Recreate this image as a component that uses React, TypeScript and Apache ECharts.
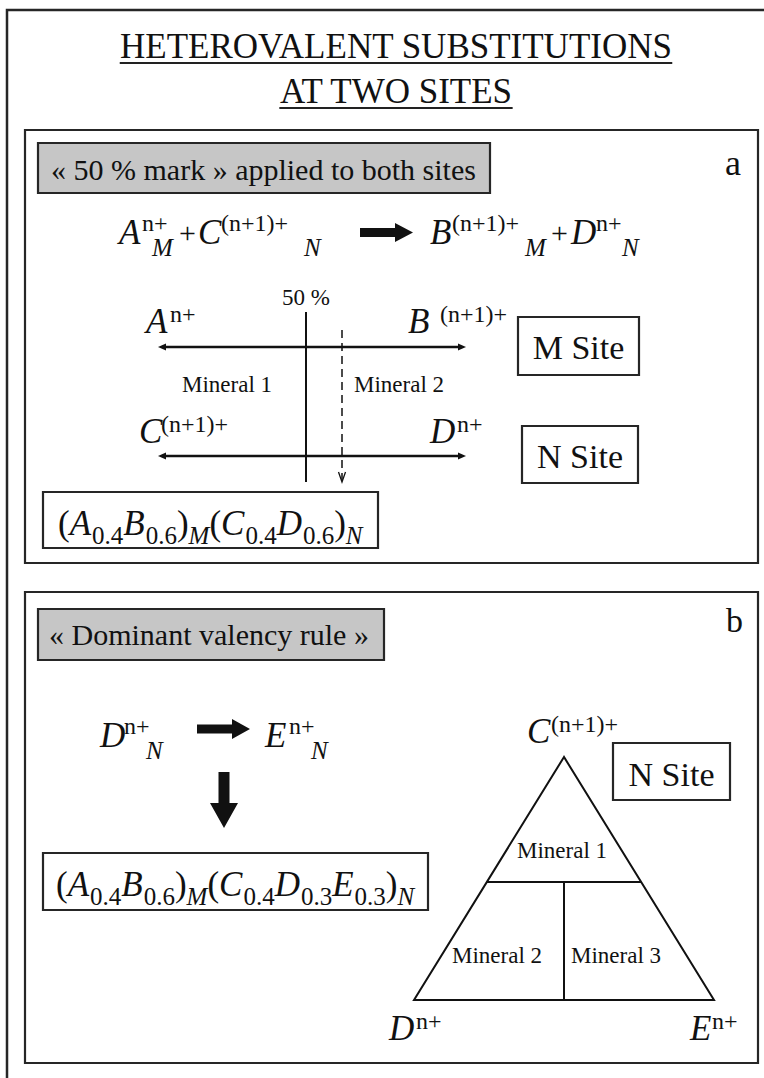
import React, { useEffect, useRef } from 'react';
import * as echarts from 'echarts';

const SERIF = "'Liberation Serif', 'Times New Roman', Times, serif";
const INK = '#111111';
const FRAME = '#262626';
const GRAY = '#c6c6c6';

const TITLE_LINES = ['HETEROVALENT SUBSTITUTIONS', 'AT TWO SITES'];
const PANEL_LETTERS = ['a', 'b'];
const RULE_TITLES = ['« 50 % mark » applied to both sites', '« Dominant valency rule »'];
const SITE_NAMES = ['M Site', 'N Site'];
const MINERALS = ['Mineral 1', 'Mineral 2', 'Mineral 3'];
const MARK_LABEL = '50 %';
const ION_N = 'n+';
const ION_N1 = '(n+1)+';

// roles: n = main upright, i = main italic, p = superscript, s = subscript upright, si = subscript italic
const REACTION_A: [string, string][] = [
  ['A', 'i'], [ION_N, 'p'], ['M', 'si'], ['+', 'n'], ['C', 'i'], [ION_N1, 'p'], ['N', 'si'],
  ['B', 'i'], [ION_N1, 'p'], ['M', 'si'], ['+', 'n'], ['D', 'i'], [ION_N, 'p'], ['N', 'si'],
];
const REACTION_B: [string, string][] = [
  ['D', 'i'], [ION_N, 'p'], ['N', 'si'], ['E', 'i'], [ION_N, 'p'], ['N', 'si'],
];
const FORMULA_A: [string, string][] = [
  ['(', 'n'], ['A', 'i'], ['0.4', 's'], ['B', 'i'], ['0.6', 's'], [')', 'n'], ['M', 'si'],
  ['(', 'n'], ['C', 'i'], ['0.4', 's'], ['D', 'i'], ['0.6', 's'], [')', 'n'], ['N', 'si'],
];
const FORMULA_B: [string, string][] = [
  ['(', 'n'], ['A', 'i'], ['0.4', 's'], ['B', 'i'], ['0.6', 's'], [')', 'n'], ['M', 'si'],
  ['(', 'n'], ['C', 'i'], ['0.4', 's'], ['D', 'i'], ['0.3', 's'], ['E', 'i'], ['0.3', 's'], [')', 'n'], ['N', 'si'],
];
const END_MEMBERS_A: [string, string][] = [
  ['A', ION_N], ['B', ION_N1], ['C', ION_N1], ['D', ION_N],
];
const END_MEMBERS_B: [string, string][] = [
  ['C', ION_N1], ['D', ION_N], ['E', ION_N],
];

const MAIN = 35;
const PLUS = 30;
const SUP = 24;
const SUB = 25;

let measureCtx: CanvasRenderingContext2D | null = null;
function measure(t: string, size: number, italic: boolean) {
  if (!measureCtx) measureCtx = document.createElement('canvas').getContext('2d');
  if (!measureCtx) return t.length * size * 0.5;
  measureCtx.font = `${italic ? 'italic ' : ''}${size}px ${SERIF}`;
  return measureCtx.measureText(t).width;
}

function buildElements() {
  const els: any[] = [];
  const text = (x: number, base: number, s: string, size: number, italic = false, align = 'left') => {
    els.push({
      type: 'text',
      x,
      y: base - 0.34 * size,
      style: {
        text: s,
        fontSize: size,
        fontFamily: SERIF,
        fontStyle: italic ? 'italic' : 'normal',
        fill: INK,
        align,
        verticalAlign: 'middle',
      },
    });
  };
  const line = (x1: number, y1: number, x2: number, y2: number, w = 2, dash?: number[], color = INK) => {
    els.push({
      type: 'line',
      shape: { x1, y1, x2, y2 },
      style: { stroke: color, lineWidth: w, lineDash: dash },
    });
  };
  const rect = (x: number, y: number, w: number, h: number, fill = '#ffffff', lw = 2.2) => {
    els.push({
      type: 'rect',
      shape: { x, y, width: w, height: h },
      style: { fill, stroke: FRAME, lineWidth: lw },
    });
  };
  const poly = (pts: number[][]) => {
    els.push({ type: 'polygon', shape: { points: pts }, style: { fill: INK } });
  };
  const rightArrow = (x0: number, x1: number, cy: number, hl: number, sh: number, hh: number) => {
    poly([[x0, cy - sh], [x1 - hl, cy - sh], [x1 - hl, cy - hh], [x1, cy], [x1 - hl, cy + hh], [x1 - hl, cy + sh], [x0, cy + sh]]);
  };
  const downArrow = (cx: number, y0: number, y1: number, hl: number, sh: number, hh: number) => {
    poly([[cx - sh, y0], [cx + sh, y0], [cx + sh, y1 - hl], [cx + hh, y1 - hl], [cx, y1], [cx - hh, y1 - hl], [cx - sh, y1 - hl]]);
  };
  const piece = (x: number, base: number, t: string, role: string) => {
    if (role === 'n') text(x, base - 1, t, PLUS, false);
    else if (role === 'i') text(x, base, t, MAIN, true);
    else if (role === 'p') text(x, base - 13, t, SUP, false);
    else text(x, base + 12, t, SUB, role === 'si');
  };
  const formula = (x0: number, base: number, parts: [string, string][]) => {
    let x = x0;
    for (const [t, role] of parts) {
      const main = role === 'n' || role === 'i';
      const italic = role === 'i' || role === 'si';
      if (main) text(x, base, t, MAIN, italic);
      else text(x, base + 9, t, SUB, italic);
      x += measure(t, main ? MAIN : SUB, italic) + (italic && main ? 1 : 0);
    }
  };
  const ion = (x: number, base: number, el: [string, string], supX: number) => {
    text(x, base, el[0], MAIN, true);
    text(supX, base - 11, el[1], SUP, false);
  };

  // outer frame (open to the right and bottom)
  els.push({
    type: 'polyline',
    shape: { points: [[7, 1090], [7, 10], [780, 10]] },
    style: { stroke: FRAME, lineWidth: 2.5, fill: 'none' },
  });

  // title
  const titleBases = [58, 103];
  TITLE_LINES.forEach((t, i) => {
    text(396, titleBases[i], t, 35, false, 'center');
    const w = measure(t, 35, false);
    line(396 - w / 2, titleBases[i] + 5, 396 + w / 2, titleBases[i] + 5, 2, undefined, '#222');
  });

  // ---------- panel a ----------
  rect(25, 130, 733, 433);
  rect(38, 143, 452, 50, GRAY);
  text(51, 180, RULE_TITLES[0], 30);
  text(725, 175, PANEL_LETTERS[0], 36);

  const reactionAX = [119, 142, 152, 179, 198, 221, 304, 430, 452, 525, 551, 571, 596, 622];
  REACTION_A.forEach(([t, role], i) => piece(reactionAX[i], 244, t, role));
  rightArrow(360, 413, 232.5, 18, 4.5, 9.5);

  // 50 % mark and composition lines
  text(306, 305, MARK_LABEL, 23, false, 'center');
  line(306, 312, 306, 482, 2);
  line(342, 330, 342, 480, 1.5, [8, 5]);
  els.push({
    type: 'polyline',
    shape: { points: [[338.5, 472], [342, 482], [345.5, 472]] },
    style: { stroke: INK, lineWidth: 1.3, fill: 'none' },
  });
  [347, 456].forEach((y) => {
    line(163, y, 461, y, 2.6);
    poly([[158, y], [166, y - 3.5], [166, y + 3.5]]);
    poly([[466, y], [458, y - 3.5], [458, y + 3.5]]);
  });
  ion(146, 333, END_MEMBERS_A[0], 170);
  ion(408, 333, END_MEMBERS_A[1], 440);
  ion(139, 443, END_MEMBERS_A[2], 161);
  ion(430, 443, END_MEMBERS_A[3], 457);
  text(182, 392, MINERALS[0], 23);
  text(354, 392, MINERALS[1], 23);

  rect(518, 317, 121, 58);
  text(578.5, 359, SITE_NAMES[0], 34, false, 'center');
  rect(522, 426, 116, 57);
  text(580, 468, SITE_NAMES[1], 34, false, 'center');

  rect(43, 492, 335, 56);
  formula(58, 535, FORMULA_A);

  // ---------- panel b ----------
  rect(25, 592, 733, 471);
  rect(38, 609, 346, 51, GRAY);
  text(49, 645, RULE_TITLES[1], 30);
  text(726, 632, PANEL_LETTERS[1], 34);

  const reactionBX = [100, 124, 146, 265, 289, 311];
  REACTION_B.forEach(([t, role], i) => piece(reactionBX[i], 747, t, role));
  rightArrow(197, 250, 729, 18, 4.5, 10);
  downArrow(224, 772, 828, 25, 5.5, 14);

  rect(43, 853, 385, 57);
  formula(56, 896, FORMULA_B);

  // triangle
  els.push({
    type: 'polygon',
    shape: { points: [[564, 757], [414, 1000], [714, 1000]] },
    style: { fill: 'none', stroke: INK, lineWidth: 2 },
  });
  line(487, 882, 641, 882, 2);
  line(564, 882, 564, 1000, 2);
  text(562, 858, MINERALS[0], 23, false, 'center');
  text(452, 963, MINERALS[1], 23);
  text(571, 963, MINERALS[2], 23);
  ion(527, 743, END_MEMBERS_B[0], 551);
  ion(389, 1040, END_MEMBERS_B[1], 416);
  ion(690, 1040, END_MEMBERS_B[2], 712);

  rect(613, 743, 117, 57);
  text(671.5, 786, SITE_NAMES[1], 34, false, 'center');

  return els;
}

export default function App() {
  const ref = useRef<HTMLDivElement>(null);
  useEffect(() => {
    if (!ref.current) return;
    const chart = echarts.init(ref.current, null, { renderer: 'svg' });
    chart.setOption({
      animation: false,
      backgroundColor: '#ffffff',
      graphic: { elements: buildElements() },
    });
    return () => chart.dispose();
  }, []);
  return (
    <div
      ref={ref}
      style={{ position: 'absolute', left: 0, top: 0, width: 764, height: 1078, background: '#fff' }}
    />
  );
}
